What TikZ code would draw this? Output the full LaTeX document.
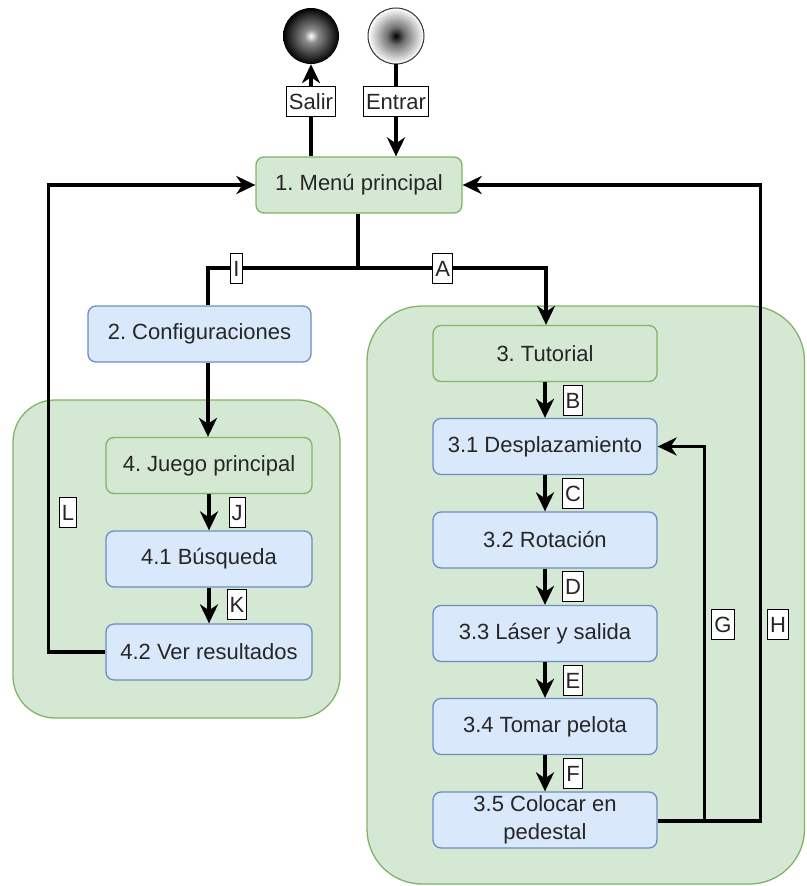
\documentclass[tikz,border=0pt]{standalone}
\usepackage{fontspec}
\setmainfont{Liberation Sans}
\usetikzlibrary{arrows.meta}
\definecolor{gfill}{HTML}{D5E8D4}
\definecolor{gdraw}{HTML}{82B366}
\definecolor{bfill}{HTML}{DAE8FC}
\definecolor{bdraw}{HTML}{6C8EBF}
\definecolor{txt}{HTML}{262626}
\pgfdeclareradialshading{salirsh}{\pgfpoint{0bp}{0bp}}{color(0bp)=(white); color(6bp)=(black!45); color(25bp)=(black); color(50bp)=(black)}
\pgfdeclareradialshading{entrarsh}{\pgfpoint{0bp}{0bp}}{color(0bp)=(black); color(8bp)=(black!55); color(25bp)=(white); color(50bp)=(white)}
\frenchspacing
\begin{document}
\frenchspacing
\begin{tikzpicture}[x=1pt,y=-1pt,
  base/.style={rounded corners=8pt, line width=1.3pt, minimum height=56pt, inner sep=0pt,
    text=txt, font=\fontsize{22}{28}\selectfont, align=center},
  gbox/.style={base, draw=gdraw, fill=gfill},
  bbox/.style={base, draw=bdraw, fill=bfill},
  cont/.style={draw=gdraw, fill=gfill, line width=1.3pt},
  lbl/.style={draw=black, fill=white, line width=1pt, inner xsep=2.5pt, inner ysep=0pt,
    minimum height=30pt, text height=16pt, text depth=0pt, text=txt,
    font=\fontsize{22}{22}\selectfont},
  conn/.style={line width=3.2pt, black},
  arr/.style={conn, -{Stealth[length=19pt, width=18pt, inset=6pt]}},
]
\useasboundingbox (0,0) rectangle (806,886);

% containers
\draw[cont, rounded corners=42pt] (13,400) rectangle (340,718);
\draw[cont, rounded corners=55pt] (367,306) rectangle (804.5,884);

% circles
\shade[shading=salirsh] (311,36) circle[radius=28pt];
\node[circle, minimum size=56pt, inner sep=0pt] (salir) at (311,36) {};
\shade[shading=entrarsh] (396,36) circle[radius=28pt];
\draw[line width=1pt, black!80] (396,36) circle[radius=28pt];
\node[circle, minimum size=56pt, inner sep=0pt] (entrar) at (396,36) {};

% boxes
\node[gbox, minimum width=206pt] (menu) at (359,185) {1. Menú principal};
\node[bbox, minimum width=223pt] (config) at (199.5,334) {2. Configuraciones};
\node[gbox, minimum width=206pt] (juego) at (209,465.5) {4. Juego principal};
\node[bbox, minimum width=206pt] (r41) at (209,559) {4.1 Búsqueda};
\node[bbox, minimum width=206pt] (r42) at (209,652) {4.2 Ver resultados};

\node[gbox, minimum width=224pt] (tut) at (545,353.5) {3. Tutorial};
\node[bbox, minimum width=224pt] (r31) at (545,446.5) {3.1 Desplazamiento};
\node[bbox, minimum width=224pt] (r32) at (545,540) {3.2 Rotación};
\node[bbox, minimum width=224pt] (r33) at (545,633.5) {3.3 Láser y salida};
\node[bbox, minimum width=224pt] (r34) at (545,726.5) {3.4 Tomar pelota};
\node[bbox, minimum width=224pt] (r35) at (545,820) {3.5 Colocar en\\pedestal};

% top connectors
\draw[arr] (menu.north -| salir.south) -- (salir.south)
  node[lbl, pos=0.6] (lsalir) {Salir};
\draw[arr] (entrar.south) -- (entrar.south |- menu.north)
  node[lbl, pos=0.4] (lentrar) {Entrar};

% split
\coordinate (split) at (358,268);
\coordinate (sl) at (208,268);
\coordinate (sr) at (546,268);
\draw[conn] (menu.south -| split) -- (split);
\draw[conn] (split) -- (sl) node[lbl, pos=0.81] (lI) {I} -- (sl |- config.north);
\draw[arr] (split) -- (sr) node[lbl, pos=0.45] (lA) {A} -- (sr |- tut.north);

% left chain
\draw[arr] (config.south -| juego.north) ++(-1,0) -- ([xshift=-1pt]juego.north);
\draw[arr] (juego) -- (r41) node[lbl, midway, xshift=28pt] (lJ) {J};
\draw[arr] (r41) -- (r42) node[lbl, midway, xshift=28pt, yshift=1.5pt] (lK) {K};
\draw[arr] (r42.west) -- ++(-57,0) |- (menu.west);
\node[lbl] (lL) at (68,512) {L};

% right chain
\draw[arr] (tut) -- (r31) node[lbl, midway, xshift=28pt] (lB) {B};
\draw[arr] (r31) -- (r32) node[lbl, midway, xshift=28pt] (lC) {C};
\draw[arr] (r32) -- (r33) node[lbl, midway, xshift=28pt] (lD) {D};
\draw[arr] (r33) -- (r34) node[lbl, midway, xshift=28pt] (lE) {E};
\draw[arr] (r34) -- (r35) node[lbl, midway, xshift=28pt] (lF) {F};

\draw[arr] ([yshift=-1pt]r35.east) -- ++(47,0) |- (r31.east);
\draw[arr] ([yshift=-1pt]r35.east) -- ++(103,0) |- (menu.east);
\node[lbl] (lG) at (723,624) {G};
\node[lbl] (lH) at (778,624) {H};
\end{tikzpicture}
\end{document}
